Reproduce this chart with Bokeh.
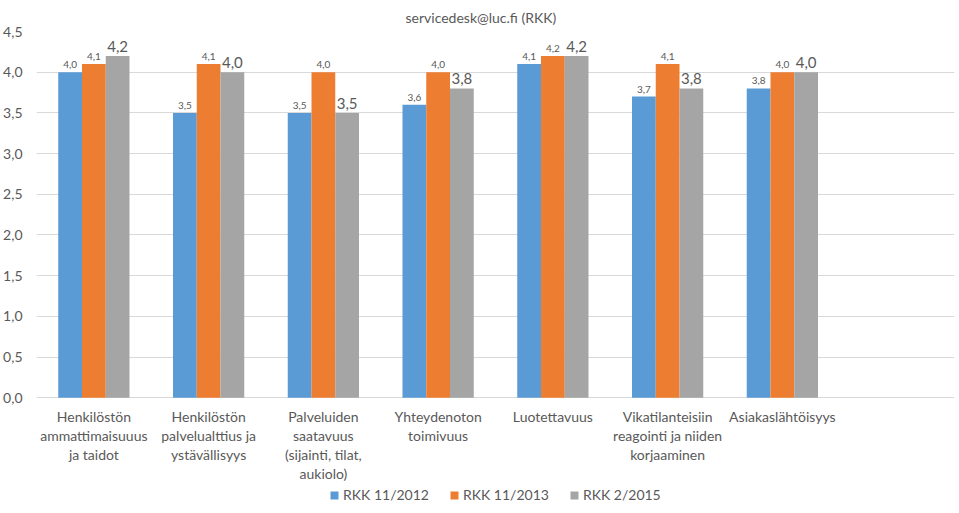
from bokeh.plotting import figure
from bokeh.models import (ColumnDataSource, Range1d, FixedTicker, CustomJSTickFormatter,
                          LabelSet, Legend, LegendItem)
from bokeh.core.properties import value
from bokeh.embed import file_html
from bokeh.resources import INLINE

categories = ["Henkilöstön\nammattimaisuuus\nja taidot",
              "Henkilöstön\npalvelualttius ja\nystävällisyys",
              "Palveluiden\nsaatavuus\n(sijainti, tilat,\naukiolo)",
              "Yhteydenoton\ntoimivuus",
              "Luotettavuus",
              "Vikatilanteisiin\nreagointi ja niiden\nkorjaaminen",
              "Asiakaslähtöisyys"]
series_names = ["RKK 11/2012", "RKK 11/2013", "RKK 2/2015"]
rkk_2012 = [4.0, 3.5, 3.5, 3.6, 4.1, 3.7, 3.8]
rkk_2013 = [4.1, 4.1, 4.0, 4.0, 4.2, 4.1, 4.0]
rkk_2015 = [4.2, 4.0, 3.5, 3.8, 4.2, 3.8, 4.0]
y_ticks = [0.0, 0.5, 1.0, 1.5, 2.0, 2.5, 3.0, 3.5, 4.0, 4.5]

colors = ["#5B9BD5", "#ED7D31", "#A5A5A5"]
label_sizes = ["10px", "10px", "15px"]
FONT = "Lato"
TXT = "#595959"
n_slots = len(categories) + 1  # one empty slot at the right, as in the original
label_drop = -0.13  # category labels hang just below the zero line (layout offset)

p = figure(width=943, height=497, frame_width=918, frame_height=472,
           output_backend="svg", toolbar_location=None, x_axis_location=None,
           x_range=Range1d(0, n_slots), y_range=Range1d(-1.3, 4.5),
           title="servicedesk@luc.fi (RKK)", min_border_left=2, min_border_right=2,
           min_border_top=2, min_border_bottom=2)
p.title.align = "left"
p.title.offset = 369
p.title.text_font = FONT
p.title.text_font_size = "14px"
p.title.text_font_style = "normal"
p.title.text_color = TXT
p.title.standoff = 12
p.outline_line_color = None

bar_w = 0.207
offsets = [-bar_w, 0.0, bar_w]
renderers = []
for k, vals in enumerate([rkk_2012, rkk_2013, rkk_2015]):
    xs = [i + 0.5 + offsets[k] for i in range(len(vals))]
    src = ColumnDataSource(dict(x=xs, top=vals,
                                lbl=[f"{v:.1f}".replace(".", ",") for v in vals]))
    r = p.vbar(x="x", top="top", width=bar_w, bottom=0, source=src,
               fill_color=colors[k], line_color=None)
    renderers.append(r)
    p.add_layout(LabelSet(x="x", y="top", text="lbl", source=src,
                          text_align="center", text_baseline="bottom", y_offset=4,
                          text_font=value(FONT), text_font_size=value(label_sizes[k]),
                          text_color=TXT))

# category labels under the bars
cat_src = ColumnDataSource(dict(x=[i + 0.5 for i in range(len(categories))],
                                y=[label_drop] * len(categories), t=categories))
p.text(x="x", y="y", text="t", source=cat_src, text_align="center", text_baseline="top",
       text_font=value(FONT), text_font_size=value("14px"), text_color=TXT,
       text_line_height=1.12)

p.yaxis.ticker = FixedTicker(ticks=y_ticks)
p.yaxis.formatter = CustomJSTickFormatter(code="return tick.toFixed(1).replace('.', ',');")
p.yaxis.major_label_text_font = FONT
p.yaxis.major_label_text_font_size = "14px"
p.yaxis.major_label_text_color = TXT
p.yaxis.axis_line_color = None
p.yaxis.major_tick_line_color = None
p.yaxis.minor_tick_line_color = None
p.yaxis.major_label_standoff = 8

p.xgrid.grid_line_color = None
p.ygrid.grid_line_color = "#D9D9D9"

legend = Legend(items=[LegendItem(label=series_names[k], renderers=[renderers[k]]) for k in range(3)],
                orientation="horizontal", location=(293, 0),
                label_text_font=FONT, label_text_font_size="14px", label_text_color=TXT,
                glyph_width=10, glyph_height=10, spacing=20, padding=0, margin=0,
                border_line_color=None, background_fill_alpha=0, label_standoff=4,
                label_height=16)
p.add_layout(legend)

open("out.html", "w").write(file_html(p, INLINE))
